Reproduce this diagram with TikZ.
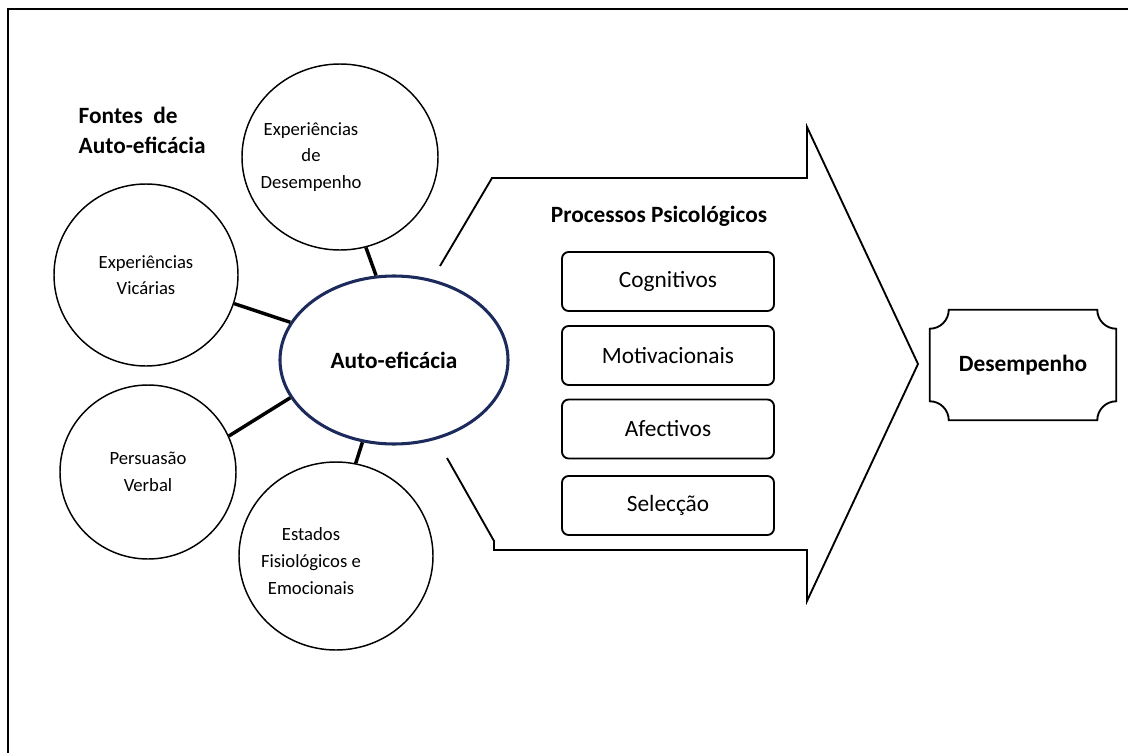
\documentclass[tikz,border=0pt]{standalone}
\usepackage{fontspec}
\setmainfont{Carlito}
\usetikzlibrary{shapes.geometric}
\definecolor{navy}{RGB}{28,42,92}
\tikzset{
  src/.style={draw=black,line width=1.1pt,ellipse,inner sep=0pt,align=center,font=\fontsize{14}{20}\selectfont},
  srctext/.style={inner sep=0pt,align=center,font=\fontsize{14}{20}\selectfont},
  link/.style={draw=black,line width=2.6pt},
  proc/.style={draw=black,line width=1.4pt,rounded corners=5pt,minimum width=159pt,minimum height=44.25pt,inner sep=0pt,font=\fontsize{17.5}{21}\selectfont},
  bigbold/.style={font=\fontsize{17.5}{22.5}\selectfont\bfseries}
}
\begin{document}
\begin{tikzpicture}[x=0.75pt,y=-0.75pt]
\useasboundingbox (0,0) rectangle (1128,753);
% frame
\draw[line width=1.5pt] (1140,9) -- (8,9) -- (8,770);
% title
\node[bigbold,align=left,anchor=north west] (title) at (74,102) {Fontes\ \ de\\Auto-eficácia};
% sources
\node[src,minimum width=147pt,minimum height=139.5pt] (c1) at (340,157) {};
\node[srctext] (t1) at (311,157) {Experiências\\de\\Desempenho};
\node[src,minimum width=138pt,minimum height=136.5pt] (c2) at (146,275) {Experiências\\Vicárias};
\node[src,minimum width=132pt,minimum height=130.5pt] (c3) at (148,472) {Persuasão\\Verbal};
\node[src,minimum width=145.5pt,minimum height=141pt] (c4) at (336,556) {};
\node[srctext] (t4) at (311,561) {Estados\\Fisiológicos e\\Emocionais};
% central ellipse
\node[draw=navy,line width=2.3pt,ellipse,minimum width=171pt,minimum height=126pt,inner sep=0pt,bigbold] (ae) at (394,360) {Auto-eficácia};
% connectors
\draw[link] (c1.-74) -- (ae.102);
\draw[link] (c2.-18) -- (ae.160);
\draw[link] (c3.24) -- (ae.200);
\draw[link] (c4.78) -- (ae.249);
% big arrow
\draw[line width=1.4pt,line join=miter] (440,266) -- (492,178) -- (807,178) -- (807,127) -- (918,364) -- (807,601) -- (807,550) -- (494,550) -- (494,541) -- (447,458);
\node[bigbold] (pp) at (659,216) {Processos Psicológicos};
\node[proc] (p1) at (668,281.5) {Cognitivos};
\node[proc] (p2) at (668,355.5) {Motivacionais};
\node[proc] (p3) at (668,429) {Afectivos};
\node[proc] (p4) at (668,505.5) {Selecção};
% Desempenho
\node[minimum width=139.5pt,minimum height=82.5pt,inner sep=0pt,bigbold] (des) at (1023,365) {Desempenho};
\draw[line width=1.4pt] ([xshift=14.25pt]des.north west) -- ([xshift=-14.25pt]des.north east)
  arc[start angle=180,end angle=270,radius=14.25pt]
  -- ([yshift=14.25pt]des.south east)
  arc[start angle=90,end angle=180,radius=14.25pt]
  -- ([xshift=14.25pt]des.south west)
  arc[start angle=0,end angle=90,radius=14.25pt]
  -- ([yshift=-14.25pt]des.north west)
  arc[start angle=270,end angle=360,radius=14.25pt] -- cycle;
\end{tikzpicture}
\end{document}
